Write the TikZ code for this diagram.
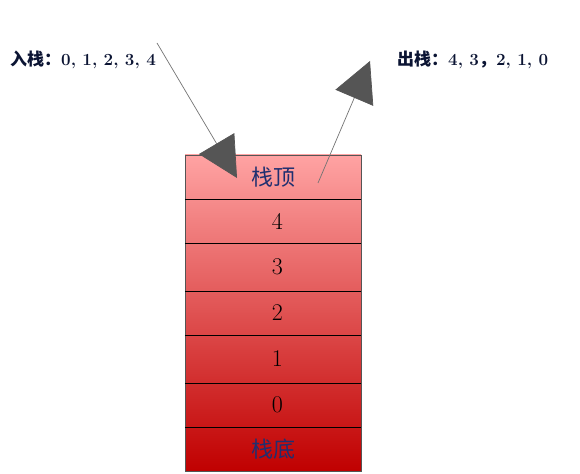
\documentclass[tikz,border=0pt]{standalone}
\usepackage{fontspec}
\usetikzlibrary{arrows.meta}
\newfontfamily\cjk{Noto Sans CJK SC}
\newfontfamily\cjkbold{Noto Sans CJK SC Bold}

\definecolor{stacktop}{HTML}{FFA3A3}
\definecolor{stackbot}{HTML}{C00000}
\definecolor{headgray}{HTML}{555555}
\definecolor{labelnavy}{HTML}{0B1433}
\definecolor{endnavy}{HTML}{1F2F70}

\def\stackbox{(185,155) rectangle (361,471)}

\tikzset{
    cell/.style={minimum width=176bp, inner sep=0pt, font=\fontsize{24bp}{26bp}\selectfont},
    endcell/.style={cell, text=endnavy, font=\fontsize{22bp}{24bp}\cjk},
    stacklabel/.style={anchor=west, inner sep=0pt, text=labelnavy, font=\fontsize{17bp}{19bp}\selectfont\bfseries},
    moveline/.style={draw=gray!90!black, line width=0.7bp, -{Triangle[length=40bp, width=41bp, color=headgray]}}
}

\begin{document}
\begin{tikzpicture}[x=1bp, y=-1bp]

    \useasboundingbox (0,0) rectangle (580,474);

    % stack body
    \shade[top color=stacktop, bottom color=stackbot] \stackbox;
    \draw[draw=headgray, line width=0.7bp] \stackbox;

    % cells, top to bottom
    \node[endcell, minimum height=44bp] (top) at (273,177) {栈顶};
    \node[cell, minimum height=44bp, text width=176bp, align=center] (c4) at (273,221) {\hspace*{9bp}4};
    \node[cell, minimum height=48bp, text width=176bp, align=center] (c3) at (273,267) {\hspace*{9bp}3};
    \node[cell, minimum height=44bp, text width=176bp, align=center] (c2) at (273,313) {\hspace*{9bp}2};
    \node[cell, minimum height=48bp, text width=176bp, align=center] (c1) at (273,359) {\hspace*{9bp}1};
    \node[cell, minimum height=44bp, text width=176bp, align=center] (c0) at (273,405) {\hspace*{9bp}0};
    \node[endcell, minimum height=44bp] (bottom) at (273,449) {栈底};

    % dividers
    \foreach \c in {top,c4,c3,c2,c1,c0}
        \draw[line width=0.6bp] (\c.south west) -- (\c.south east);

    % push
    \node[stacklabel] (pushlabel) at (10,60) {{\cjkbold 入栈：}0, 1, 2, 3, 4};
    \coordinate (pushfrom) at (157,43);
    \coordinate (pushto) at (237,178);
    \draw[moveline] (pushfrom) -- (pushto);

    % pop
    \node[stacklabel] (poplabel) at (397,60) {{\cjkbold 出栈：}4, 3{\cjkbold ，}2, 1, 0};
    \coordinate (popfrom) at (318,183);
    \coordinate (popto) at (370,61);
    \draw[moveline] (popfrom) -- (popto);

\end{tikzpicture}
\end{document}
